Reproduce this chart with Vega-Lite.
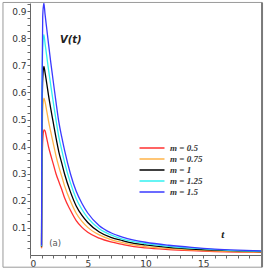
{
  "$schema": "https://vega.github.io/schema/vega-lite/v6.json",
  "width": 231,
  "height": 252,
  "autosize": {"type": "none"},
  "padding": {"left": 30, "top": 3, "right": 5, "bottom": 18},
  "background": "white",
  "config": {
    "view": {"stroke": null},
    "axis": {
      "labelFont": "DejaVu Sans",
      "labelFontSize": 9,
      "labelColor": "#333333",
      "domainColor": "#666666",
      "tickColor": "#666666",
      "tickSize": 3,
      "grid": false,
      "labelPadding": 1,
      "labelOverlap": false
    },
    "legend": {"padding": 0}
  },
  "datasets": {
    "curves": [
      {"t": 1.0, "v": 0.025, "m": "m = 0.5"}, {"t": 1.03, "v": 0.25, "m": "m = 0.5"}, {"t": 1.1, "v": 0.42, "m": "m = 0.5"}, {"t": 1.2, "v": 0.462, "m": "m = 0.5"}, {"t": 1.3, "v": 0.458, "m": "m = 0.5"}, {"t": 1.45, "v": 0.43, "m": "m = 0.5"}, {"t": 1.6, "v": 0.4, "m": "m = 0.5"}, {"t": 1.8, "v": 0.368, "m": "m = 0.5"}, {"t": 2.0, "v": 0.338, "m": "m = 0.5"}, {"t": 2.25, "v": 0.3, "m": "m = 0.5"}, {"t": 2.5, "v": 0.27, "m": "m = 0.5"}, {"t": 2.75, "v": 0.242, "m": "m = 0.5"}, {"t": 3.0, "v": 0.21, "m": "m = 0.5"}, {"t": 3.5, "v": 0.165, "m": "m = 0.5"}, {"t": 4.0, "v": 0.127, "m": "m = 0.5"}, {"t": 4.5, "v": 0.102, "m": "m = 0.5"}, {"t": 5, "v": 0.084, "m": "m = 0.5"}, {"t": 6, "v": 0.062, "m": "m = 0.5"}, {"t": 7, "v": 0.048, "m": "m = 0.5"}, {"t": 8, "v": 0.039, "m": "m = 0.5"}, {"t": 9, "v": 0.031, "m": "m = 0.5"}, {"t": 10, "v": 0.026, "m": "m = 0.5"}, {"t": 12, "v": 0.02, "m": "m = 0.5"}, {"t": 14, "v": 0.016, "m": "m = 0.5"}, {"t": 16, "v": 0.013, "m": "m = 0.5"}, {"t": 18, "v": 0.011, "m": "m = 0.5"}, {"t": 20, "v": 0.01, "m": "m = 0.5"},
      {"t": 1.0, "v": 0.028, "m": "m = 0.75"}, {"t": 1.03, "v": 0.325, "m": "m = 0.75"}, {"t": 1.1, "v": 0.535, "m": "m = 0.75"}, {"t": 1.2, "v": 0.579, "m": "m = 0.75"}, {"t": 1.3, "v": 0.566, "m": "m = 0.75"}, {"t": 1.45, "v": 0.531, "m": "m = 0.75"}, {"t": 1.6, "v": 0.495, "m": "m = 0.75"}, {"t": 1.8, "v": 0.454, "m": "m = 0.75"}, {"t": 2.0, "v": 0.415, "m": "m = 0.75"}, {"t": 2.25, "v": 0.366, "m": "m = 0.75"}, {"t": 2.5, "v": 0.325, "m": "m = 0.75"}, {"t": 2.75, "v": 0.29, "m": "m = 0.75"}, {"t": 3.0, "v": 0.254, "m": "m = 0.75"}, {"t": 3.5, "v": 0.199, "m": "m = 0.75"}, {"t": 4.0, "v": 0.154, "m": "m = 0.75"}, {"t": 4.5, "v": 0.124, "m": "m = 0.75"}, {"t": 5, "v": 0.102, "m": "m = 0.75"}, {"t": 6, "v": 0.074, "m": "m = 0.75"}, {"t": 7, "v": 0.057, "m": "m = 0.75"}, {"t": 8, "v": 0.046, "m": "m = 0.75"}, {"t": 9, "v": 0.037, "m": "m = 0.75"}, {"t": 10, "v": 0.031, "m": "m = 0.75"}, {"t": 12, "v": 0.024, "m": "m = 0.75"}, {"t": 14, "v": 0.019, "m": "m = 0.75"}, {"t": 16, "v": 0.015, "m": "m = 0.75"}, {"t": 18, "v": 0.013, "m": "m = 0.75"}, {"t": 20, "v": 0.011, "m": "m = 0.75"},
      {"t": 1.0, "v": 0.03, "m": "m = 1"}, {"t": 1.03, "v": 0.4, "m": "m = 1"}, {"t": 1.1, "v": 0.65, "m": "m = 1"}, {"t": 1.2, "v": 0.696, "m": "m = 1"}, {"t": 1.3, "v": 0.674, "m": "m = 1"}, {"t": 1.45, "v": 0.633, "m": "m = 1"}, {"t": 1.6, "v": 0.59, "m": "m = 1"}, {"t": 1.8, "v": 0.539, "m": "m = 1"}, {"t": 2.0, "v": 0.492, "m": "m = 1"}, {"t": 2.25, "v": 0.433, "m": "m = 1"}, {"t": 2.5, "v": 0.38, "m": "m = 1"}, {"t": 2.75, "v": 0.339, "m": "m = 1"}, {"t": 3.0, "v": 0.298, "m": "m = 1"}, {"t": 3.5, "v": 0.233, "m": "m = 1"}, {"t": 4.0, "v": 0.181, "m": "m = 1"}, {"t": 4.5, "v": 0.146, "m": "m = 1"}, {"t": 5, "v": 0.12, "m": "m = 1"}, {"t": 6, "v": 0.085, "m": "m = 1"}, {"t": 7, "v": 0.065, "m": "m = 1"}, {"t": 8, "v": 0.053, "m": "m = 1"}, {"t": 9, "v": 0.043, "m": "m = 1"}, {"t": 10, "v": 0.037, "m": "m = 1"}, {"t": 12, "v": 0.028, "m": "m = 1"}, {"t": 14, "v": 0.022, "m": "m = 1"}, {"t": 16, "v": 0.018, "m": "m = 1"}, {"t": 18, "v": 0.015, "m": "m = 1"}, {"t": 20, "v": 0.013, "m": "m = 1"},
      {"t": 1.0, "v": 0.032, "m": "m = 1.25"}, {"t": 1.03, "v": 0.475, "m": "m = 1.25"}, {"t": 1.1, "v": 0.765, "m": "m = 1.25"}, {"t": 1.2, "v": 0.813, "m": "m = 1.25"}, {"t": 1.3, "v": 0.782, "m": "m = 1.25"}, {"t": 1.45, "v": 0.734, "m": "m = 1.25"}, {"t": 1.6, "v": 0.685, "m": "m = 1.25"}, {"t": 1.8, "v": 0.625, "m": "m = 1.25"}, {"t": 2.0, "v": 0.568, "m": "m = 1.25"}, {"t": 2.25, "v": 0.499, "m": "m = 1.25"}, {"t": 2.5, "v": 0.435, "m": "m = 1.25"}, {"t": 2.75, "v": 0.387, "m": "m = 1.25"}, {"t": 3.0, "v": 0.341, "m": "m = 1.25"}, {"t": 3.5, "v": 0.266, "m": "m = 1.25"}, {"t": 4.0, "v": 0.208, "m": "m = 1.25"}, {"t": 4.5, "v": 0.168, "m": "m = 1.25"}, {"t": 5, "v": 0.137, "m": "m = 1.25"}, {"t": 6, "v": 0.097, "m": "m = 1.25"}, {"t": 7, "v": 0.074, "m": "m = 1.25"}, {"t": 8, "v": 0.059, "m": "m = 1.25"}, {"t": 9, "v": 0.049, "m": "m = 1.25"}, {"t": 10, "v": 0.042, "m": "m = 1.25"}, {"t": 12, "v": 0.032, "m": "m = 1.25"}, {"t": 14, "v": 0.025, "m": "m = 1.25"}, {"t": 16, "v": 0.02, "m": "m = 1.25"}, {"t": 18, "v": 0.016, "m": "m = 1.25"}, {"t": 20, "v": 0.014, "m": "m = 1.25"},
      {"t": 1.0, "v": 0.035, "m": "m = 1.5"}, {"t": 1.03, "v": 0.55, "m": "m = 1.5"}, {"t": 1.1, "v": 0.88, "m": "m = 1.5"}, {"t": 1.2, "v": 0.93, "m": "m = 1.5"}, {"t": 1.3, "v": 0.89, "m": "m = 1.5"}, {"t": 1.45, "v": 0.835, "m": "m = 1.5"}, {"t": 1.6, "v": 0.78, "m": "m = 1.5"}, {"t": 1.8, "v": 0.71, "m": "m = 1.5"}, {"t": 2.0, "v": 0.645, "m": "m = 1.5"}, {"t": 2.25, "v": 0.565, "m": "m = 1.5"}, {"t": 2.5, "v": 0.49, "m": "m = 1.5"}, {"t": 2.75, "v": 0.435, "m": "m = 1.5"}, {"t": 3.0, "v": 0.385, "m": "m = 1.5"}, {"t": 3.5, "v": 0.3, "m": "m = 1.5"}, {"t": 4.0, "v": 0.235, "m": "m = 1.5"}, {"t": 4.5, "v": 0.19, "m": "m = 1.5"}, {"t": 5, "v": 0.155, "m": "m = 1.5"}, {"t": 6, "v": 0.108, "m": "m = 1.5"}, {"t": 7, "v": 0.082, "m": "m = 1.5"}, {"t": 8, "v": 0.066, "m": "m = 1.5"}, {"t": 9, "v": 0.055, "m": "m = 1.5"}, {"t": 10, "v": 0.047, "m": "m = 1.5"}, {"t": 12, "v": 0.036, "m": "m = 1.5"}, {"t": 14, "v": 0.028, "m": "m = 1.5"}, {"t": 16, "v": 0.022, "m": "m = 1.5"}, {"t": 18, "v": 0.018, "m": "m = 1.5"}, {"t": 20, "v": 0.015, "m": "m = 1.5"}
    ]
  },
  "layer": [
    {
      "data": {"name": "curves"},
      "mark": {"type": "line", "strokeWidth": 1.3, "interpolate": "monotone", "clip": true},
      "encoding": {
        "x": {
          "field": "t", "type": "quantitative",
          "scale": {"domain": [0, 20], "nice": false, "zero": false},
          "axis": {"title": null, "values": [0, 1, 2, 3, 4, 5, 6, 7, 8, 9, 10, 11, 12, 13, 14, 15, 16, 17, 18, 19], "format": "d", "labelExpr": "datum.value % 5 == 0 ? datum.label : ''"}
        },
        "y": {
          "field": "v", "type": "quantitative",
          "scale": {"domain": [0, 0.93], "nice": false, "zero": false},
          "axis": {"title": null, "values": [0.025, 0.05, 0.075, 0.1, 0.125, 0.15, 0.175, 0.2, 0.225, 0.25, 0.275, 0.3, 0.325, 0.35, 0.375, 0.4, 0.425, 0.45, 0.475, 0.5, 0.525, 0.55, 0.575, 0.6, 0.625, 0.65, 0.675, 0.7, 0.725, 0.75, 0.775, 0.8, 0.825, 0.85, 0.875, 0.9, 0.925], "format": ".1f", "labelExpr": "abs(datum.value * 10 - round(datum.value * 10)) < 0.01 ? datum.label : ''"}
        },
        "color": {
          "field": "m", "type": "nominal",
          "scale": {
            "domain": ["m = 0.5", "m = 0.75", "m = 1", "m = 1.25", "m = 1.5"],
            "range": ["#ff3030", "#ffb347", "#000000", "#33f0f0", "#3a3aff"]
          },
          "legend": {
            "orient": "none",
            "legendX": 116,
            "legendY": 139,
            "title": null,
            "symbolType": "M-2.5,0H2.5",
            "symbolSize": 100,
            "symbolStrokeWidth": 1.5,
            "symbolFillColor": "transparent",
            "labelFont": "Liberation Serif",
            "labelFontStyle": "italic",
            "labelFontWeight": "bold",
            "labelFontSize": 9,
            "labelColor": "#333333",
            "labelOffset": 12,
            "rowPadding": 0
          }
        }
      }
    },
    {
      "data": {"values": [{}]},
      "mark": {"type": "rect", "fill": null, "stroke": "#9a9a9a", "strokeWidth": 1, "clip": false},
      "encoding": {
        "x": {"datum": -2.34, "type": "quantitative", "scale": {"domain": [0, 20], "nice": false, "zero": false},
          "axis": {"title": null, "values": [0, 1, 2, 3, 4, 5, 6, 7, 8, 9, 10, 11, 12, 13, 14, 15, 16, 17, 18, 19], "format": "d", "labelExpr": "datum.value % 5 == 0 ? datum.label : ''"}},
        "x2": {"datum": 20.09},
        "y": {"datum": -0.045, "type": "quantitative", "scale": {"domain": [0, 0.93], "nice": false, "zero": false},
          "axis": {"title": null, "values": [0.025, 0.05, 0.075, 0.1, 0.125, 0.15, 0.175, 0.2, 0.225, 0.25, 0.275, 0.3, 0.325, 0.35, 0.375, 0.4, 0.425, 0.45, 0.475, 0.5, 0.525, 0.55, 0.575, 0.6, 0.625, 0.65, 0.675, 0.7, 0.725, 0.75, 0.775, 0.8, 0.825, 0.85, 0.875, 0.9, 0.925], "format": ".1f", "labelExpr": "abs(datum.value * 10 - round(datum.value * 10)) < 0.01 ? datum.label : ''"}},
        "y2": {"datum": 0.932}
      }
    },
    {
      "data": {"values": [{}]},
      "mark": {"type": "rule", "stroke": "#7a7a7a", "strokeWidth": 2, "clip": false},
      "encoding": {
        "x": {"datum": 20.09, "type": "quantitative", "scale": {"domain": [0, 20], "nice": false, "zero": false},
          "axis": {"title": null, "values": [0, 1, 2, 3, 4, 5, 6, 7, 8, 9, 10, 11, 12, 13, 14, 15, 16, 17, 18, 19], "format": "d", "labelExpr": "datum.value % 5 == 0 ? datum.label : ''"}},
        "y": {"datum": -0.045, "type": "quantitative", "scale": {"domain": [0, 0.93], "nice": false, "zero": false},
          "axis": {"title": null, "values": [0.025, 0.05, 0.075, 0.1, 0.125, 0.15, 0.175, 0.2, 0.225, 0.25, 0.275, 0.3, 0.325, 0.35, 0.375, 0.4, 0.425, 0.45, 0.475, 0.5, 0.525, 0.55, 0.575, 0.6, 0.625, 0.65, 0.675, 0.7, 0.725, 0.75, 0.775, 0.8, 0.825, 0.85, 0.875, 0.9, 0.925], "format": ".1f", "labelExpr": "abs(datum.value * 10 - round(datum.value * 10)) < 0.01 ? datum.label : ''"}},
        "y2": {"datum": 0.932}
      }
    },
    {
      "data": {"values": [{}]},
      "mark": {"type": "text", "text": "V(t)", "font": "DejaVu Sans", "fontSize": 10, "fontStyle": "italic", "fontWeight": "bold", "color": "#222222", "align": "left", "baseline": "middle"},
      "encoding": {
        "x": {"datum": 2.6, "type": "quantitative", "scale": {"domain": [0, 20], "nice": false, "zero": false},
          "axis": {"title": null, "values": [0, 1, 2, 3, 4, 5, 6, 7, 8, 9, 10, 11, 12, 13, 14, 15, 16, 17, 18, 19], "format": "d", "labelExpr": "datum.value % 5 == 0 ? datum.label : ''"}},
        "y": {"datum": 0.795, "type": "quantitative", "scale": {"domain": [0, 0.93], "nice": false, "zero": false},
          "axis": {"title": null, "values": [0.025, 0.05, 0.075, 0.1, 0.125, 0.15, 0.175, 0.2, 0.225, 0.25, 0.275, 0.3, 0.325, 0.35, 0.375, 0.4, 0.425, 0.45, 0.475, 0.5, 0.525, 0.55, 0.575, 0.6, 0.625, 0.65, 0.675, 0.7, 0.725, 0.75, 0.775, 0.8, 0.825, 0.85, 0.875, 0.9, 0.925], "format": ".1f", "labelExpr": "abs(datum.value * 10 - round(datum.value * 10)) < 0.01 ? datum.label : ''"}}
      }
    },
    {
      "data": {"values": [{}]},
      "mark": {"type": "text", "text": "t", "font": "Liberation Serif", "fontSize": 11, "fontStyle": "italic", "fontWeight": "bold", "color": "#222222", "align": "center", "baseline": "middle"},
      "encoding": {
        "x": {"datum": 16.7, "type": "quantitative", "scale": {"domain": [0, 20], "nice": false, "zero": false},
          "axis": {"title": null, "values": [0, 1, 2, 3, 4, 5, 6, 7, 8, 9, 10, 11, 12, 13, 14, 15, 16, 17, 18, 19], "format": "d", "labelExpr": "datum.value % 5 == 0 ? datum.label : ''"}},
        "y": {"datum": 0.072, "type": "quantitative", "scale": {"domain": [0, 0.93], "nice": false, "zero": false},
          "axis": {"title": null, "values": [0.025, 0.05, 0.075, 0.1, 0.125, 0.15, 0.175, 0.2, 0.225, 0.25, 0.275, 0.3, 0.325, 0.35, 0.375, 0.4, 0.425, 0.45, 0.475, 0.5, 0.525, 0.55, 0.575, 0.6, 0.625, 0.65, 0.675, 0.7, 0.725, 0.75, 0.775, 0.8, 0.825, 0.85, 0.875, 0.9, 0.925], "format": ".1f", "labelExpr": "abs(datum.value * 10 - round(datum.value * 10)) < 0.01 ? datum.label : ''"}}
      }
    },
    {
      "data": {"values": [{}]},
      "mark": {"type": "text", "text": "(a)", "font": "DejaVu Sans", "fontSize": 8.5, "color": "#555555", "align": "left", "baseline": "middle"},
      "encoding": {
        "x": {"datum": 1.67, "type": "quantitative", "scale": {"domain": [0, 20], "nice": false, "zero": false},
          "axis": {"title": null, "values": [0, 1, 2, 3, 4, 5, 6, 7, 8, 9, 10, 11, 12, 13, 14, 15, 16, 17, 18, 19], "format": "d", "labelExpr": "datum.value % 5 == 0 ? datum.label : ''"}},
        "y": {"datum": 0.045, "type": "quantitative", "scale": {"domain": [0, 0.93], "nice": false, "zero": false},
          "axis": {"title": null, "values": [0.025, 0.05, 0.075, 0.1, 0.125, 0.15, 0.175, 0.2, 0.225, 0.25, 0.275, 0.3, 0.325, 0.35, 0.375, 0.4, 0.425, 0.45, 0.475, 0.5, 0.525, 0.55, 0.575, 0.6, 0.625, 0.65, 0.675, 0.7, 0.725, 0.75, 0.775, 0.8, 0.825, 0.85, 0.875, 0.9, 0.925], "format": ".1f", "labelExpr": "abs(datum.value * 10 - round(datum.value * 10)) < 0.01 ? datum.label : ''"}}
      }
    }
  ]
}
